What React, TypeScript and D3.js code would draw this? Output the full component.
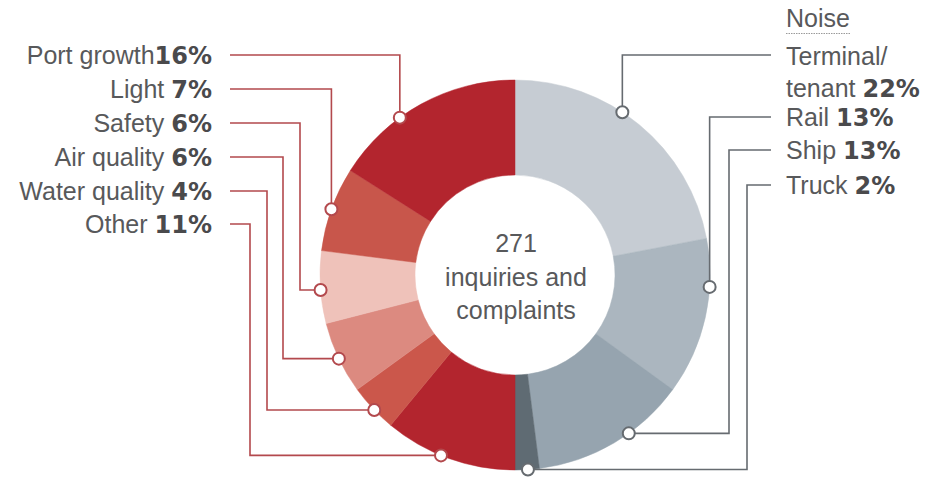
import React from "react";
import * as d3 from "d3";

const categories = ["Terminal/tenant", "Rail", "Ship", "Truck", "Other", "Water quality", "Air quality", "Safety", "Light", "Port growth"];
const values = [22, 13, 13, 2, 11, 4, 6, 6, 7, 16];
const pctLabels = ["22%", "13%", "13%", "2%", "11%", "4%", "6%", "6%", "7%", "16%"];
const sliceColors = ["#c6ccd3", "#abb6bf", "#96a4af", "#5f6b73", "#b3252e", "#cb574b", "#dc8a80", "#efc2ba", "#c8564b", "#b3252e"];
// angle (deg, clockwise from top) where each leader dot sits on the ring
const dotAngles = [33.4, 93.5, 144.3, 176.2, 202.3, 226.2, 244.6, 265.6, 289.7, 323.8];
// label row y (leader line height)
const rowY = [55, 117, 150, 185, 224, 191, 157, 123, 89, 55];
// elbow x of leader (null => straight down to dot)
const elbowX: (number | null)[] = [null, null, 729, 747, 250, 267, 283, 300, null, null];
const sideRight = [true, true, true, true, false, false, false, false, false, false];
const spaceBefore = [true, true, true, true, true, true, true, true, true, false];

const W = 927, H = 477;
const cx = 515, cy = 275, R = 195, r0 = 100;
const leftLineStart = 230, rightLineStart = 771;
const leftTextX = 212, rightTextX = 786;
const RED_LINE = "#b3494d", GRAY_LINE = "#666b70";
const TEXT = "#58595b", NUM = "#4a4a4c";

export default function App() {
  const pie = d3.pie<number>().sort(null).value((d) => d).startAngle(0).endAngle(2 * Math.PI);
  const arcs = pie(values);
  const arc = d3.arc<d3.PieArcDatum<number>>().innerRadius(r0).outerRadius(R);
  const line = d3.line();

  return (
    <svg width={W} height={H} style={{ position: "absolute", left: 0, top: 0, background: "#fff" }}
      fontFamily="'Liberation Sans', Arial, sans-serif">
      <g transform={`translate(${cx},${cy})`}>
        {arcs.map((a, i) => (
          <path key={i} d={arc(a) || ""} fill={sliceColors[i]} stroke={sliceColors[i]} strokeWidth={0.5} />
        ))}
      </g>
      {categories.map((c, i) => {
        const ang = (dotAngles[i] * Math.PI) / 180;
        const dx = cx + R * Math.sin(ang);
        const dy = cy - R * Math.cos(ang);
        const ex = elbowX[i] ?? dx;
        const y0 = rowY[i];
        const sx = sideRight[i] ? rightLineStart : leftLineStart;
        const pts: [number, number][] = [[sx, y0], [ex, y0], [ex, dy], [dx, dy]];
        const col = sideRight[i] ? GRAY_LINE : RED_LINE;
        return (
          <g key={c}>
            <path d={line(pts) || ""} fill="none" stroke={col} strokeWidth={1.6} />
            <circle cx={dx} cy={dy} r={6} fill="#fff" stroke={col} strokeWidth={2} />
          </g>
        );
      })}
      {categories.map((c, i) => {
        const y = rowY[i] + 9;
        if (sideRight[i]) {
          if (c === "Terminal/tenant") {
            return (
              <g key={"t" + i}>
                <text x={rightTextX} y={65} fontSize={25} fill={TEXT}>Terminal/</text>
                <text x={rightTextX} y={97} fontSize={25} fill={TEXT}>
                  tenant{" "}
                  <tspan fontFamily="'DejaVu Sans', sans-serif" fontWeight="bold" fontSize={24} fill={NUM}>{pctLabels[i]}</tspan>
                </text>
              </g>
            );
          }
          return (
            <text key={"t" + i} x={rightTextX} y={y} fontSize={25} fill={TEXT}>
              {c}{" "}
              <tspan fontFamily="'DejaVu Sans', sans-serif" fontWeight="bold" fontSize={24} fill={NUM}>{pctLabels[i]}</tspan>
            </text>
          );
        }
        return (
          <text key={"t" + i} x={leftTextX} y={y} fontSize={25} fill={TEXT} textAnchor="end">
            {c}{spaceBefore[i] ? " " : ""}
            <tspan fontFamily="'DejaVu Sans', sans-serif" fontWeight="bold" fontSize={24} fill={NUM}>{pctLabels[i]}</tspan>
          </text>
        );
      })}
      <text x={rightTextX} y={27} fontSize={25} fill={TEXT}>Noise</text>
      <line x1={rightTextX} x2={851} y1={33.5} y2={33.5} stroke="#9a9a9a" strokeWidth={1} strokeDasharray="1.5 1" />
      <g fill={TEXT} fontSize={25} textAnchor="middle">
        <text x={516} y={252}>271</text>
        <text x={516} y={286}>inquiries and</text>
        <text x={516} y={319}>complaints</text>
      </g>
    </svg>
  );
}
